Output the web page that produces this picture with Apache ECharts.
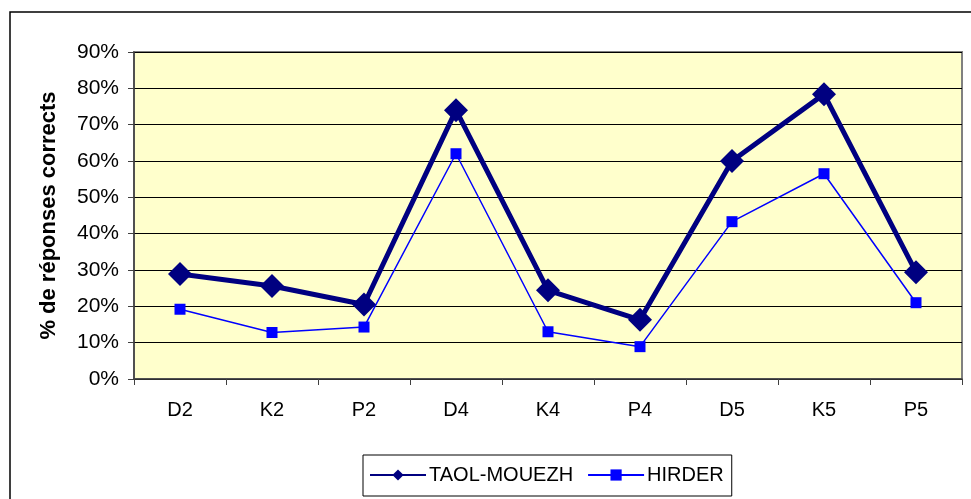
<!DOCTYPE html>
<html>
<head>
<meta charset="utf-8">
<script src="https://cdn.jsdelivr.net/npm/echarts@6/dist/echarts.min.js"></script>
<style>
  html, body { margin: 0; padding: 0; background: #fff; }
  #chart { width: 971px; height: 499px; }
</style>
</head>
<body>
<div id="chart"></div>
<script>
// categories on the x axis
const categories = ['D2', 'K2', 'P2', 'D4', 'K4', 'P4', 'D5', 'K5', 'P5']
// % of correct answers
const taolMouezh = [28.9, 25.6, 20.5, 74.0, 24.4, 16.3, 60.0, 78.4, 29.4]
const hirder = [19.2, 12.8, 14.3, 62.0, 13.0, 8.9, 43.3, 56.5, 21.0]

const chart = echarts.init(document.getElementById('chart'))

chart.setOption({
  animation: false,
  textStyle: {fontFamily: 'Liberation Sans, Arial, sans-serif'},
  graphic: [{
    type: 'rect',
    shape: {x: 10, y: 12, width: 990, height: 520},
    style: {fill: 'none', stroke: '#000', lineWidth: 1.5},
    z: -1
  }],
  grid: {
    show: true,
    left: 134,
    right: 9,
    top: 52,
    bottom: 120,
    backgroundColor: '#FFFFCC',
    borderColor: '#808080',
    borderWidth: 2
  },
  legend: {
    top: 455,
    left: 363,
    padding: [10, 8, 11, 6],
    itemGap: 14,
    itemWidth: 56,
    itemHeight: 14,
    borderColor: '#000',
    borderWidth: 1,
    textStyle: {fontSize: 20, color: '#000', padding: [0, 0, 0, -2]},
    data: ['TAOL-MOUEZH', 'HIRDER']
  },
  xAxis: {
    type: 'category',
    data: categories,
    boundaryGap: true,
    axisLine: {lineStyle: {color: '#404040', width: 1.5}},
    axisTick: {show: true, length: 6, lineStyle: {color: '#404040'}},
    axisLabel: {fontSize: 20, color: '#000', margin: 21}
  },
  yAxis: {
    type: 'value',
    min: 0,
    max: 90,
    interval: 10,
    name: '% de réponses corrects',
    nameLocation: 'middle',
    nameGap: 74,
    nameTextStyle: {fontSize: 22, fontWeight: 'bold', color: '#000'},
    axisLine: {show: true, lineStyle: {color: '#404040', width: 1.5}},
    axisTick: {show: true, length: 6, lineStyle: {color: '#404040'}},
    axisLabel: {fontSize: 21, color: '#000', margin: 15, formatter: '{value}%'},
    splitLine: {lineStyle: {color: '#000', width: 1}}
  },
  series: [
    {
      name: 'TAOL-MOUEZH',
      type: 'line',
      data: taolMouezh,
      symbol: 'diamond',
      symbolSize: 24,
      lineStyle: {color: '#000080', width: 5},
      itemStyle: {color: '#000080'},
      z: 3
    },
    {
      name: 'HIRDER',
      type: 'line',
      data: hirder,
      symbol: 'rect',
      symbolSize: 11,
      lineStyle: {color: '#0000FF', width: 1.5},
      itemStyle: {color: '#0000FF'},
      z: 2
    }
  ]
})
</script>
</body>
</html>
